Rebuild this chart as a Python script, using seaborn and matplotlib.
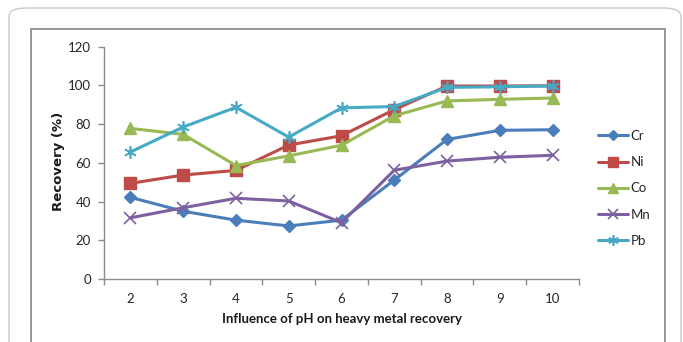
import matplotlib
matplotlib.use("Agg")
import matplotlib.pyplot as plt
from matplotlib.patches import Rectangle, FancyBboxPatch
import pandas as pd
import seaborn as sns

# pH values and recovery (%) of each metal
ph = [2, 3, 4, 5, 6, 7, 8, 9, 10]
cr = [42.2, 35.0, 30.4, 27.4, 30.4, 51.1, 72.1, 76.8, 77.1]
ni = [49.4, 53.7, 56.1, 69.2, 74.0, 87.5, 99.7, 99.7, 99.8]
co = [77.8, 74.7, 58.6, 63.6, 69.1, 84.3, 92.0, 92.8, 93.5]
mn = [31.6, 36.8, 41.7, 40.3, 29.1, 56.2, 60.9, 62.9, 63.9]
pb = [65.6, 78.5, 88.7, 73.3, 88.4, 89.1, 99.0, 99.3, 99.7]
metals = ["Cr", "Ni", "Co", "Mn", "Pb"]
y_ticks = [0, 20, 40, 60, 80, 100, 120]

series = dict(zip(metals, [cr, ni, co, mn, pb]))
df = pd.DataFrame(
    [(p, m, v) for m in metals for p, v in zip(ph, series[m])],
    columns=["pH", "Metal", "Recovery"],
)

sns.set_theme(style="white")
plt.rcParams["font.family"] = ["Lato", "DejaVu Sans"]

palette = {"Cr": "#4A7EBB", "Ni": "#BE4B48", "Co": "#98B954",
           "Mn": "#7D60A0", "Pb": "#46AAC5"}
markers = {"Cr": "D", "Ni": "s", "Co": "^", "Mn": "x", "Pb": (6, 2, 0)}
msize = {"Cr": 6.5, "Ni": 8.5, "Co": 8.5, "Mn": 8, "Pb": 9}

W, H = 683, 342
fig = plt.figure(figsize=(W / 100, H / 100), dpi=100)

# frames around the chart
fig.patches.append(FancyBboxPatch((9 / W, -0.2), (681 - 9) / W, (H - 8) / H + 0.2,
                                  boxstyle="round,pad=0,rounding_size=0.025",
                                  transform=fig.transFigure, fill=False,
                                  edgecolor="#c8c8c8", linewidth=1.0, zorder=0))
fig.patches.append(Rectangle((31 / W, -0.2), (665 - 31) / W, (H - 29) / H + 0.2,
                             transform=fig.transFigure, fill=False,
                             edgecolor="#8c8c8c", linewidth=1.3, zorder=0))

left, right, bottom, top = 104 / W, 579 / W, 1 - 279 / H, 1 - 46.7 / H
ax = fig.add_axes([left, bottom, right - left, top - bottom])
ax.patch.set_alpha(0)

for m in metals:
    sub = df[df["Metal"] == m]
    sns.lineplot(data=sub, x="pH", y="Recovery", color=palette[m],
                 marker=markers[m], markersize=msize[m],
                 markeredgecolor=palette[m],
                 markeredgewidth=1.2 if m in ("Mn", "Pb") else 1.0,
                 linewidth=2.2, ax=ax, label=m, legend=False)

ax.set_xlim(1.5, 10.5)
ax.set_ylim(0, 120)
ax.set_xticks(ph)
ax.set_xticks([p - 0.5 for p in ph] + [10.5], minor=True)
ax.set_yticks(y_ticks)
ax.tick_params(axis="x", which="major", length=0, pad=10, labelsize=9.5,
               labelcolor="#262626")
ax.tick_params(axis="x", which="minor", length=4, width=1, color="#8c8c8c",
               direction="out")
ax.tick_params(axis="y", length=4, width=1, color="#8c8c8c", direction="out",
               pad=5.5, labelsize=9.5, labelcolor="#262626")
ax.tick_params(bottom=True, left=True, which="both")
for s in ("top", "right"):
    ax.spines[s].set_visible(False)
for s in ("left", "bottom"):
    ax.spines[s].set_color("#8c8c8c")
    ax.spines[s].set_linewidth(1)

ax.set_xlabel("Influence of pH on heavy metal recovery", fontsize=9.5,
              fontweight="bold", color="#1a1a1a", labelpad=6)
ax.set_ylabel("Recovery (%)", fontsize=9.5, fontweight="bold",
              color="#1a1a1a", family=["DejaVu Sans"])
ax.yaxis.set_label_coords((65 - 104) / (579 - 104), 0.505)

handles = ax.get_lines()
leg = ax.legend(handles, metals, loc="upper left",
                bbox_to_anchor=(598 / W, 1 - 130 / H),
                bbox_transform=fig.transFigure, frameon=False, fontsize=9.5,
                handlelength=2.3, handletextpad=0.15, labelspacing=1.08,
                borderaxespad=0, borderpad=0, numpoints=1)
for h, m in zip(leg.legend_handles, metals):
    h.set_markersize(msize[m] * 0.85)
for t in leg.get_texts():
    t.set_color("#262626")

fig.savefig("out.png", dpi=100)
